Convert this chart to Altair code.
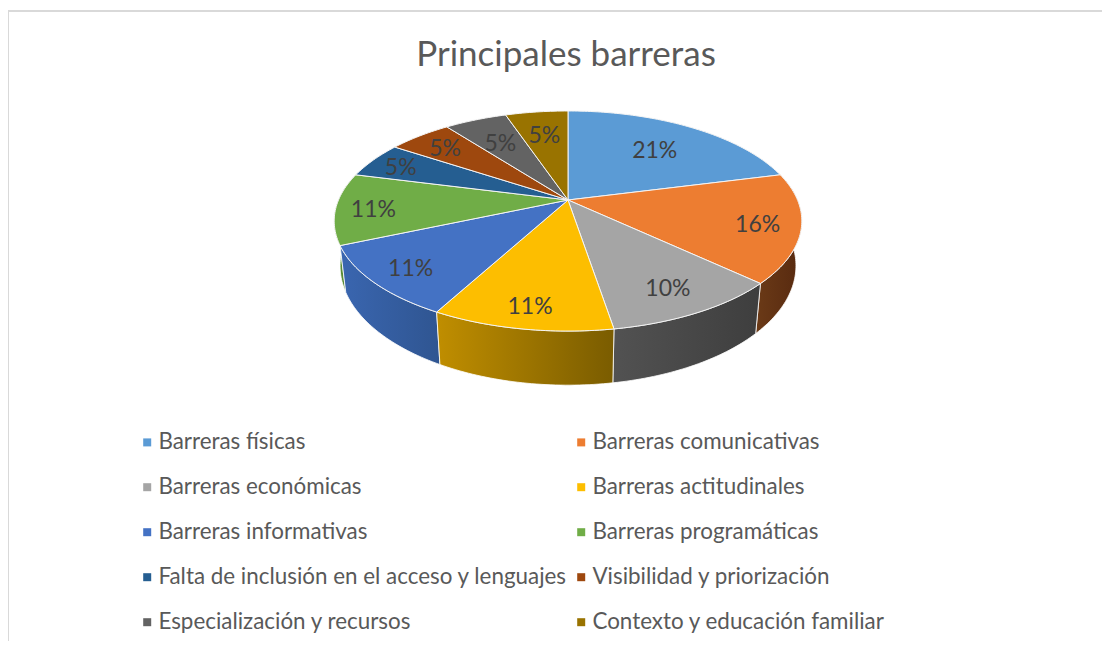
import numpy as np
import pandas as pd
import altair as alt

categories = ["Barreras físicas", "Barreras comunicativas", "Barreras económicas",
              "Barreras actitudinales", "Barreras informativas", "Barreras programáticas",
              "Falta de inclusión en el acceso y lenguajes", "Visibilidad y priorización",
              "Especialización y recursos", "Contexto y educación familiar"]
shares = [21.0, 16.0, 10.4, 10.5, 10.6, 10.5, 5.3, 5.3, 5.2, 5.2]
labels = ["21%", "16%", "10%", "11%", "11%", "11%", "5%", "5%", "5%", "5%"]
colors = ["#5b9bd5", "#ed7d31", "#a5a5a5", "#fdbe00", "#4472c4",
          "#70ad47", "#255e91", "#9e480e", "#636363", "#997300"]
label_radius = [0.68, 0.82, 0.80, 0.84, 0.83, 0.84, 0.85, 0.81, 0.70, 0.72]
# the legend fills its two columns top to bottom, so this is its listing order
legend_order = [0, 2, 4, 6, 8, 1, 3, 5, 7, 9]
# side wall shading (left colour, right colour) for the slices facing the viewer
side_shades = {1: ("#6b3a17", "#57290f"), 2: ("#525252", "#3e3e3e"), 3: ("#c08e00", "#7a5c00"),
               4: ("#3a66b0", "#2f5591"), 5: ("#5f9339", "#4c7a2c")}

TILT = 0.459
PERSP = 0.191
W, H, TOP = 1094, 563, 70


def top_xy(theta, r=1.0):
    u, v = r * np.sin(theta), r * np.cos(theta)
    k = 1 + PERSP * v
    return u / k, TILT * v / k


def base_xy(theta):
    x, y = top_xy(theta)
    return 0.975 * x, 1.085 * y - 0.186


edges = np.concatenate([[0], np.cumsum(shares)]) / sum(shares) * 2 * np.pi

top_rows, side_rows, text_rows = [], [], []
for i, cat in enumerate(categories):
    a0, a1 = edges[i], edges[i + 1]
    th = np.linspace(a0, a1, max(int((a1 - a0) * 60), 6))
    xs, ys = top_xy(th)
    px = np.concatenate([[0], xs, [0]])
    py = np.concatenate([[0], ys, [0]])
    for k, (x, y) in enumerate(zip(px, py)):
        top_rows.append(dict(cat=cat, x=x, y=y, o=k))
    if i in side_shades:
        bx, by = base_xy(th)
        qx = np.concatenate([xs, bx[::-1], xs[:1]])
        qy = np.concatenate([ys, by[::-1], ys[:1]])
        for k, (x, y) in enumerate(zip(qx, qy)):
            side_rows.append(dict(cat=cat, x=x, y=y, o=k))
    lx, ly = top_xy((a0 + a1) / 2, label_radius[i])
    text_rows.append(dict(cat=cat, x=lx, y=ly, label=labels[i]))

top_df, side_df, text_df = pd.DataFrame(top_rows), pd.DataFrame(side_rows), pd.DataFrame(text_rows)

x_scale = alt.Scale(domain=[(8 - 568) / 229.5, (1102 - 568) / 229.5], nice=False, zero=False)
y_scale = alt.Scale(domain=[(200 - 641) / 231, (200 - 78) / 231], nice=False, zero=False)
X = alt.X("x:Q", scale=x_scale, axis=None)
Y = alt.Y("y:Q", scale=y_scale, axis=None)

side_layers = []
for i in [1, 5, 4, 2, 3]:
    left, right = side_shades[i]
    grad = alt.LinearGradient(gradient="linear", x1=0, x2=1, y1=0, y2=0,
                              stops=[alt.GradientStop(color=left, offset=0),
                                     alt.GradientStop(color=right, offset=1)])
    side_layers.append(
        alt.Chart(side_df[side_df.cat == categories[i]])
        .mark_line(filled=True, fill=grad, stroke="white", strokeWidth=1, strokeOpacity=0.8)
        .encode(x=X, y=Y, order="o:Q")
    )

tops = alt.Chart(top_df).mark_line(filled=True, stroke="#f4f4f4", strokeWidth=1).encode(
    x=X, y=Y, order="o:Q",
    color=alt.Color("cat:N",
                    scale=alt.Scale(domain=[categories[i] for i in legend_order],
                                    range=[colors[i] for i in legend_order]),
                    legend=alt.Legend(title=None, orient="none", legendX=128, legendY=353,
                                      columns=2, symbolType="square", symbolSize=64,
                                      symbolStrokeWidth=0, labelFont="Lato", labelFontSize=22.4,
                                      labelColor="#595959", labelOffset=0, rowPadding=22,
                                      columnPadding=2, labelLimit=500)),
)

texts = alt.Chart(text_df).mark_text(font="Lato", fontSize=23, color="#404040", dy=2.5).encode(
    x=X, y=Y, text="label:N")

frame_top = alt.Chart(pd.DataFrame({"a": [0]})).mark_rule(color="#d9d9d9", strokeWidth=2).encode(
    x=alt.value(0), x2=alt.value(W), y=alt.value(3 - TOP))
frame_left = alt.Chart(pd.DataFrame({"a": [0]})).mark_rule(color="#d9d9d9", strokeWidth=2).encode(
    x=alt.value(0), y=alt.value(3 - TOP), y2=alt.value(H))

chart = alt.layer(frame_top, frame_left, *side_layers, tops, texts).properties(
    width=W, height=H,
    padding={"left": 0, "top": TOP, "right": 0, "bottom": 0},
    autosize=alt.AutoSizeParams(type="none"),
    title=alt.TitleParams("Principales barreras", font="Lato", fontSize=35, fontWeight="normal",
                          color="#595959", anchor="middle", dx=11, dy=71, offset=8),
).configure_view(stroke=None)

chart.save("out.html", embed_options={"renderer": "svg", "actions": False})
